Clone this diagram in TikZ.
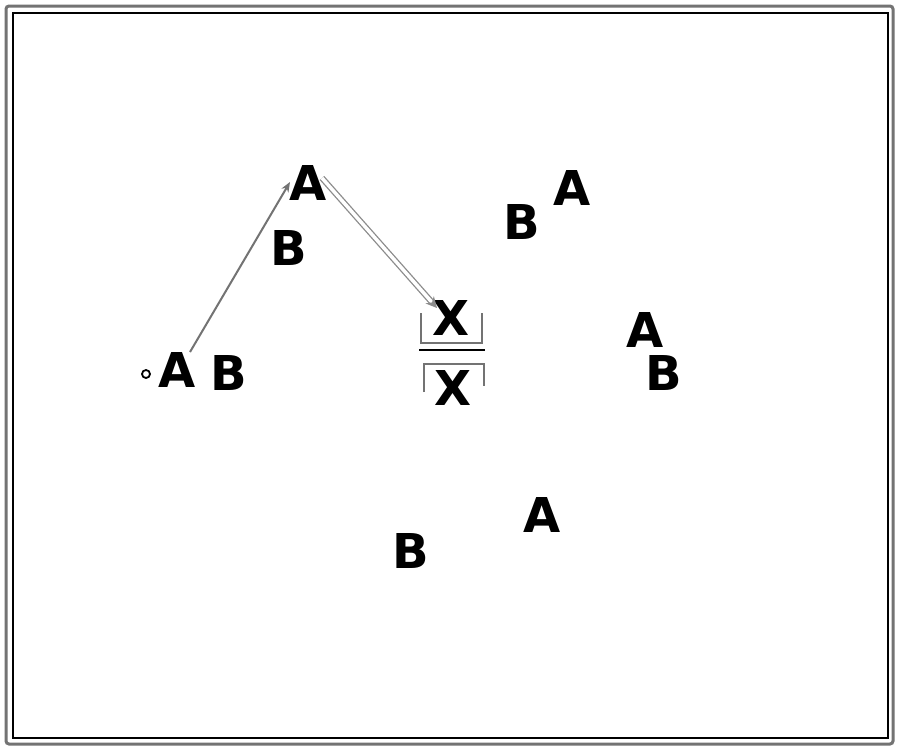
\documentclass[tikz,border=0pt]{standalone}
\usepackage{fontspec}
\setmainfont{DejaVu Sans}
\usetikzlibrary{arrows.meta}
\begin{document}
\begin{tikzpicture}[x=1pt,y=-1pt,
  lab/.style={inner sep=0pt, font=\fontsize{48}{50}\selectfont\bfseries},
  brk/.style={draw=black!55, line width=2.6pt},
  arr/.style={draw=black!55, line width=2pt, -{Stealth[length=10pt,width=8pt]}},
  darr/.style={draw=black!45, line width=1.3pt, double=white, double distance=3.5pt, -{Stealth[length=11pt,width=11pt]}}]
\useasboundingbox (0,0) rectangle (900,750);
\fill[white] (0,0) rectangle (900,750);
\draw[black!55, line width=3pt, rounded corners=3pt] (6,6) rectangle (893,744);
\draw[black, line width=1.2pt] (13,13) rectangle (888,738);
% nodes
\node[draw, circle, line width=1.8pt, minimum size=8pt, inner sep=0pt] (dot) at (146,374) {};
\node[lab] (a1) at (177,370) {A};
\node[lab] (b1) at (229,373) {B};
\node[lab] (a2) at (308,183) {A};
\node[lab] (b2) at (289,248) {B};
\node[lab] (x1) at (451,318) {X};
\node[lab] (x2) at (453,388) {X};
\node[lab] (b3) at (522,222) {B};
\node[lab] (a3) at (572,188) {A};
\node[lab] (a4) at (645,330) {A};
\node[lab] (b4) at (664,373) {B};
\node[lab] (a5) at (542,515) {A};
\node[lab] (b5) at (411,551) {B};
% brackets and bar
\draw[brk] (421,313) -- (421,343) -- (482,343) -- (482,313);
\draw[black, line width=1.2pt] (419,350) -- (485,350);
\draw[brk] (424,392) -- (424,364) -- (484,364) -- (484,386);
% connectors
\draw[arr] ([shift={(13,-18)}]a1.center) -- ([shift={(-18,-1)}]a2.center);
\draw[darr] ([shift={(14,-5)}]a2.center) -- ([shift={(-14,-10)}]x1.center);
\end{tikzpicture}
\end{document}
